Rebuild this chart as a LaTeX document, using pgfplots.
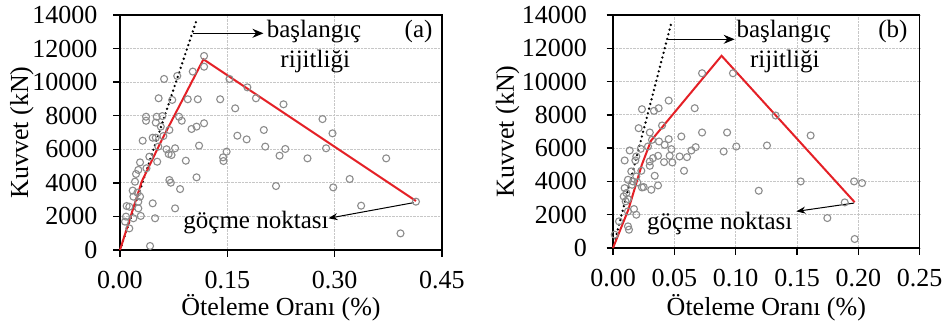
\documentclass[border=0pt]{standalone}
\usepackage{fontspec}
\setmainfont{Liberation Serif}[Ligatures=TeX]
\renewcommand{\familydefault}{\rmdefault}
\usepackage{pgfplots}
\pgfplotsset{compat=1.18}
\usetikzlibrary{arrows.meta}
\definecolor{envred}{RGB}{228,32,38}
\definecolor{ptgray}{RGB}{140,140,140}
\newcommand{\bigfont}{\rmfamily\fontsize{25}{28}\selectfont}
\newcommand{\tickfont}{\rmfamily\fontsize{26}{29}\selectfont}
\tikzset{txt/.style={font=\bigfont, inner sep=0pt}}
\begin{document}
\rmfamily
\begin{tikzpicture}
\pgfplotsset{
  panel/.style={
    scale only axis,
    axis line style={line width=1.5pt},
    tick style={line width=1.4pt, black},
    tick align=outside,
    major tick length=6.5pt,
    xtick pos=left, ytick pos=left,
    ymin=0, ymax=14000, ytick={0,2000,4000,6000,8000,10000,12000,14000},
    grid=major,
    major grid style={densely dotted, black!22, line width=1pt},
    tick label style={font=\tickfont},
    label style={font=\tickfont},
    /pgf/number format/assume math mode=true,
    yticklabel style={/pgf/number format/1000 sep={}},
    xticklabel style={/pgf/number format/fixed, /pgf/number format/fixed zerofill, /pgf/number format/precision=2, yshift=-11pt},
    scaled ticks=false,
    clip=false,
    ylabel={Kuvvet (kN)},
    xlabel={Öteleme Oranı (\%)},
  },
  pts/.style={only marks, mark=o, mark size=3.5pt, mark options={line width=1.1pt, draw=ptgray}},
  env/.style={envred, line width=2pt, no marks},
  stiff/.style={black, line width=2.6pt, dash pattern=on 0pt off 4.8pt, line cap=round, no marks},
}
\path[use as bounding box] (-120pt,-77pt) rectangle (822pt,250pt);

% ---------------- (a)
\begin{axis}[panel, at={(0,0)}, anchor=south west, width=322pt, height=235pt,
  xmin=0, xmax=0.45, xtick={0,0.15,0.30,0.45},
  yticklabel style={xshift=-12.5pt},
  xlabel style={at={(axis description cs:0.5,-0.247)}, anchor=center},
  ylabel style={at={(axis description cs:-0.305,0.5)}, anchor=center}]
\addplot[pts] coordinates {
(0.1175,11560) (0.1175,10920) (0.1017,10630) (0.080,10370) (0.0616,10190) (0.153,10190)
(0.178,9690) (0.190,9040) (0.054,9040) (0.073,8940) (0.0947,8980) (0.1087,8980) (0.140,8980)
(0.161,8440) (0.2285,8680) (0.0364,7940) (0.0364,7700) (0.0513,7940) (0.0592,7980) (0.0825,7940)
(0.0863,7700) (0.050,7590) (0.057,7350) (0.069,7150) (0.100,7210) (0.107,7350) (0.1175,7550)
(0.283,7800) (0.201,7150) (0.297,6950) (0.164,6810) (0.177,6590) (0.0317,6510) (0.0457,6690)
(0.050,6690) (0.0606,6790) (0.0536,6160) (0.1105,6220) (0.203,6160) (0.288,6060) (0.065,6000)
(0.077,6060) (0.068,5720) (0.072,5660) (0.231,6020) (0.223,5620) (0.149,5860) (0.144,5520)
(0.1446,5300) (0.262,5460) (0.372,5460) (0.041,5560) (0.052,5260) (0.092,5320) (0.028,5220)
(0.037,4870) (0.0224,4530) (0.0256,4770) (0.021,4070) (0.069,4170) (0.071,4010) (0.107,4330)
(0.084,3630) (0.321,4230) (0.218,3810) (0.298,3730) (0.0177,3540) (0.0243,3420) (0.0187,3180)
(0.028,3180) (0.0256,2880) (0.0457,2780) (0.0093,2620) (0.013,2580) (0.0256,2480) (0.077,2480)
(0.337,2640) (0.4136,2880) (0.0084,1990) (0.0187,1890) (0.029,2030) (0.049,1890) (0.007,1690)
(0.013,1290) (0.042,240) (0.392,990)
};
\addplot[stiff] coordinates {(0,0) (0.1063,13600)};
\addplot[env] coordinates {(0,0) (0.0303,4070) (0.0583,6550) (0.1166,11360) (0.4136,2920)};
\draw[line width=1pt, -{Stealth[length=11pt,width=9pt]}] (axis cs:0.1026,12910) -- (axis cs:0.2005,12910);
\node[txt, anchor=west] at (axis cs:0.205,13000) {başlangıç};
\node[txt] at (axis cs:0.2728,11220) {rijitliği};
\node[txt] at (axis cs:0.4173,13000) {(a)};
\node[txt] at (axis cs:0.190,1608) {göçme noktası};
\draw[line width=1pt, -{Stealth[length=9pt,width=7pt]}] (axis cs:0.4103,2820) -- (axis cs:0.2914,1890);
\end{axis}

% ---------------- (b)
\begin{axis}[panel, at={(493pt,2pt)}, anchor=south west, width=306.7pt, height=233pt,
  xmin=0, xmax=0.25, xtick={0,0.05,0.10,0.15,0.20,0.25},
  yticklabel style={xshift=-16pt},
  xlabel style={at={(axis description cs:0.5,-0.2575)}, anchor=center},
  ylabel style={at={(axis description cs:-0.344,0.5)}, anchor=center}]
\addplot[pts] coordinates {
(0.0726,10500) (0.0978,10500) (0.0454,8860) (0.0236,8340) (0.0334,8240) (0.0372,8400) (0.0666,8400)
(0.1326,7960) (0.040,7360) (0.0209,7200) (0.030,6940) (0.0726,6940) (0.093,6940) (0.0557,6700)
(0.1611,6760) (0.0318,6500) (0.0454,6540) (0.0375,6400) (0.0285,6100) (0.0421,6200) (0.1005,6100)
(0.1255,6160) (0.0674,6060) (0.0639,5860) (0.0902,5800) (0.0476,5940) (0.0136,5860) (0.0226,5960)
(0.019,5500) (0.0543,5500) (0.0603,5460) (0.0462,5540) (0.0326,5400) (0.0367,5540) (0.0095,5260)
(0.0182,5260) (0.030,5200) (0.0416,5160) (0.0484,5140) (0.030,4940) (0.0231,4640) (0.0579,4640)
(0.0149,4600) (0.034,4340) (0.0122,4100) (0.0163,4000) (0.0198,3940) (0.1965,4000) (0.153,4000)
(0.0095,3600) (0.0236,3640) (0.025,3660) (0.0312,3500) (0.0367,3760) (0.203,3900) (0.1188,3440)
(0.0109,3300) (0.0087,3100) (0.0122,2940) (0.0103,2800) (0.0171,2340) (0.019,2000) (0.0122,2200)
(0.1889,2740) (0.1747,1800) (0.0049,1600) (0.0122,1300) (0.013,1100) (0.0014,800) (0.197,540)
(0.0155,3800) (0.019,4300)
};
\addplot[stiff] coordinates {(0,0) (0.0478,13600)};
\addplot[env] coordinates {(0,0) (0.0125,2300) (0.0235,5000) (0.031,6450) (0.0885,11550) (0.197,2750)};
\draw[line width=1pt, -{Stealth[length=11pt,width=9pt]}] (axis cs:0.0448,12540) -- (axis cs:0.0992,12540);
\node[txt, anchor=west] at (axis cs:0.1006,13000) {başlangıç};
\node[txt] at (axis cs:0.140,11195) {rijitliği};
\node[txt] at (axis cs:0.2282,13000) {(b)};
\node[txt] at (axis cs:0.087,1500) {göçme noktası};
\draw[line width=1pt, -{Stealth[length=9pt,width=7pt]}] (axis cs:0.1965,2700) -- (axis cs:0.1495,2200);
\end{axis}
\end{tikzpicture}
\end{document}
